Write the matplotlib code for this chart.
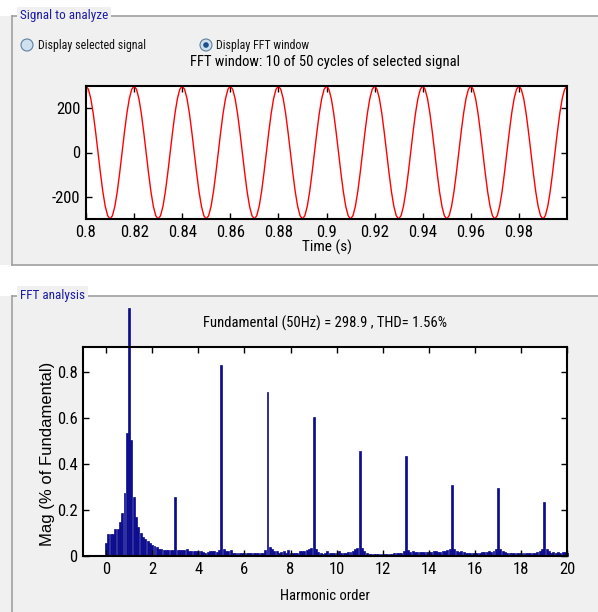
import numpy as np
import matplotlib
matplotlib.use("Agg")
import matplotlib.pyplot as plt
from matplotlib.patches import Rectangle, Circle
from matplotlib.lines import Line2D

plt.rcParams['font.family'] = ['Roboto Condensed', 'Liberation Sans', 'DejaVu Sans']
plt.rcParams['axes.unicode_minus'] = False

# ---------------- data ----------------
# one cycle of the 50 Hz signal (20 samples / cycle, 1 ms step)
cycle_values = [299, 284, 242, 176, 92, 0, -92, -176, -242, -284,
                -299, -284, -242, -176, -92, 0, 92, 176, 242, 284]
n_cycles = 10
t_start = 0.8
sample_step = 0.001
signal_ticks = [0.8, 0.82, 0.84, 0.86, 0.88, 0.9, 0.92, 0.94, 0.96, 0.98]
signal_tick_labels = ['0.8', '0.82', '0.84', '0.86', '0.88', '0.9', '0.92', '0.94', '0.96', '0.98']
signal_yticks = [-200, 0, 200]

# FFT magnitude (% of fundamental), harmonic order 0 .. 20 in steps of 0.1
harmonic_step = 0.1
fft_mag = [
    0.055, 0.094, 0.094, 0.096, 0.116, 0.116, 0.149, 0.188, 0.275, 0.536,   # 0.0-0.9
    1.080, 0.507, 0.255, 0.168, 0.128, 0.101, 0.084, 0.072, 0.067, 0.058,   # 1.0-1.9
    0.048, 0.043, 0.040, 0.030, 0.029, 0.028, 0.028, 0.027, 0.027, 0.028,   # 2
    0.255, 0.028, 0.027, 0.027, 0.026, 0.032, 0.020, 0.020, 0.021, 0.020,   # 3
    0.021, 0.020, 0.019, 0.014, 0.018, 0.020, 0.021, 0.020, 0.019, 0.024,   # 4
    0.830, 0.030, 0.020, 0.020, 0.027, 0.015, 0.013, 0.013, 0.012, 0.013,   # 5
    0.013, 0.012, 0.013, 0.012, 0.012, 0.013, 0.012, 0.011, 0.013, 0.025,   # 6
    0.716, 0.040, 0.030, 0.020, 0.020, 0.015, 0.018, 0.022, 0.015, 0.025,   # 7
    0.015, 0.012, 0.014, 0.013, 0.020, 0.020, 0.022, 0.025, 0.030, 0.036,   # 8
    0.604, 0.030, 0.016, 0.015, 0.010, 0.012, 0.020, 0.015, 0.013, 0.012,   # 9
    0.014, 0.020, 0.012, 0.012, 0.013, 0.018, 0.016, 0.020, 0.030, 0.036,   # 10
    0.457, 0.035, 0.022, 0.015, 0.010, 0.008, 0.008, 0.008, 0.010, 0.010,   # 11
    0.010, 0.010, 0.010, 0.010, 0.010, 0.012, 0.012, 0.012, 0.015, 0.022,   # 12
    0.435, 0.025, 0.018, 0.020, 0.016, 0.018, 0.017, 0.018, 0.016, 0.018,   # 13
    0.017, 0.018, 0.020, 0.020, 0.018, 0.016, 0.020, 0.022, 0.025, 0.030,   # 14
    0.309, 0.030, 0.020, 0.018, 0.022, 0.018, 0.015, 0.014, 0.015, 0.015,   # 15
    0.014, 0.015, 0.015, 0.018, 0.016, 0.018, 0.020, 0.018, 0.022, 0.030,   # 16
    0.296, 0.030, 0.022, 0.018, 0.015, 0.015, 0.012, 0.015, 0.012, 0.012,   # 17
    0.012, 0.012, 0.012, 0.012, 0.012, 0.014, 0.015, 0.016, 0.020, 0.032,   # 18
    0.235, 0.030, 0.020, 0.015, 0.016, 0.015, 0.016, 0.015, 0.016, 0.016,   # 19
    0.015,                                                                  # 20
]
fft_xticks = [0, 2, 4, 6, 8, 10, 12, 14, 16, 18, 20]
fft_yticks = [0, 0.2, 0.4, 0.6, 0.8]
fft_ytick_labels = ['0', '0.2', '0.4', '0.6', '0.8']

title_signal = "FFT window: 10 of 50 cycles of selected signal"
title_fft = "Fundamental (50Hz) = 298.9 , THD= 1.56%"

# ---------------- figure ----------------
W, H = 598, 612
fig = plt.figure(figsize=(W / 100, H / 100), dpi=100, facecolor='white')

# background "GUI" layer in pixel coordinates
bg = fig.add_axes([0, 0, 1, 1], zorder=0)
bg.set_xlim(0, W)
bg.set_ylim(H, 0)
bg.axis('off')

panel_gray = '#f0f0f0'
frame_gray = '#a0a0a0'
label_blue = '#1c1ca8'
bg.add_patch(Rectangle((0, 16), W, 265 - 16, facecolor=panel_gray, edgecolor='none'))
bg.add_patch(Rectangle((0, 296), W, H - 296, facecolor=panel_gray, edgecolor='none'))
for xs, ys in [([12, W], [16, 16]), ([12, 12], [16, 265]), ([12, W], [265, 265]),
               ([12, W], [296, 296]), ([12, 12], [296, H])]:
    bg.add_line(Line2D(xs, ys, color=frame_gray, lw=1.2))

bg.text(20, 16, "Signal to analyze", color=label_blue, fontsize=9.5, ha='left', va='center',
        bbox=dict(facecolor=panel_gray, edgecolor='none', pad=1.8))
bg.text(20, 295, "FFT analysis", color=label_blue, fontsize=9.5, ha='left', va='center',
        bbox=dict(facecolor=panel_gray, edgecolor='none', pad=1.8))

# radio buttons
bg.add_patch(Circle((27, 45), 6, facecolor='#cfe0ee', edgecolor='#5f7f9f', lw=0.8))
bg.text(38, 45, "Display selected signal", fontsize=8.6, ha='left', va='center', color='#111111')
bg.add_patch(Circle((206, 45), 6, facecolor='#cfe0ee', edgecolor='#5f7f9f', lw=0.8))
bg.add_patch(Circle((206, 45), 2.8, facecolor='#1d4f8a', edgecolor='none'))
bg.text(216, 45, "Display FFT window", fontsize=8.6, ha='left', va='center', color='#111111')

bg.text(325, 62, title_signal, fontsize=10.5, ha='center', va='center', color='black')
bg.text(325, 323, title_fft, fontsize=10.5, ha='center', va='center', color='black')

# ---------------- signal axes ----------------
ax1 = fig.add_axes([86 / W, 1 - 219 / H, (567 - 86) / W, (219 - 86) / H], zorder=2)
sig = np.array(cycle_values * n_cycles + [cycle_values[0]], dtype=float)
t = t_start + sample_step * np.arange(len(sig))
ax1.plot(t, sig, color='red', lw=1.0)
ax1.set_xlim(t[0], t[-1])
ax1.set_ylim(min(cycle_values), max(cycle_values))
ax1.set_xticks(signal_ticks)
ax1.set_xticklabels(signal_tick_labels)
ax1.set_yticks(signal_yticks)
ax1.set_xlabel("Time (s)", fontsize=11)
ax1.xaxis.set_label_coords(0.5, -0.155)

# ---------------- FFT axes ----------------
ax2 = fig.add_axes([83 / W, 1 - 556 / H, (567.3 - 83) / W, (556 - 347) / H], zorder=2)
h = harmonic_step * np.arange(len(fft_mag))
ax2.bar(h, fft_mag, width=0.085, color='#0c0c8e', edgecolor='#0c0c8e', lw=0.5, clip_on=False)
ax2.set_xlim(-1, 20)
ax2.set_ylim(0, 0.91)
ax2.set_xticks(fft_xticks)
ax2.set_yticks(fft_yticks)
ax2.set_yticklabels(fft_ytick_labels)
ax2.set_xlabel("Harmonic order", fontsize=10.5)
ax2.xaxis.set_label_coords(0.5, -0.16)
ax2.set_ylabel("Mag (% of Fundamental)", fontsize=12, family=['Liberation Sans', 'DejaVu Sans'])
ax2.yaxis.set_label_coords(-0.058, 0.49)

for ax in (ax1, ax2):
    ax.set_facecolor('white')
    for s in ax.spines.values():
        s.set_linewidth(1.5)
        s.set_color('black')
    ax.tick_params(direction='in', top=True, right=True, length=4, width=1,
                   labelsize=12, pad=4)

fig.savefig("out.png", dpi=100, facecolor=fig.get_facecolor())
